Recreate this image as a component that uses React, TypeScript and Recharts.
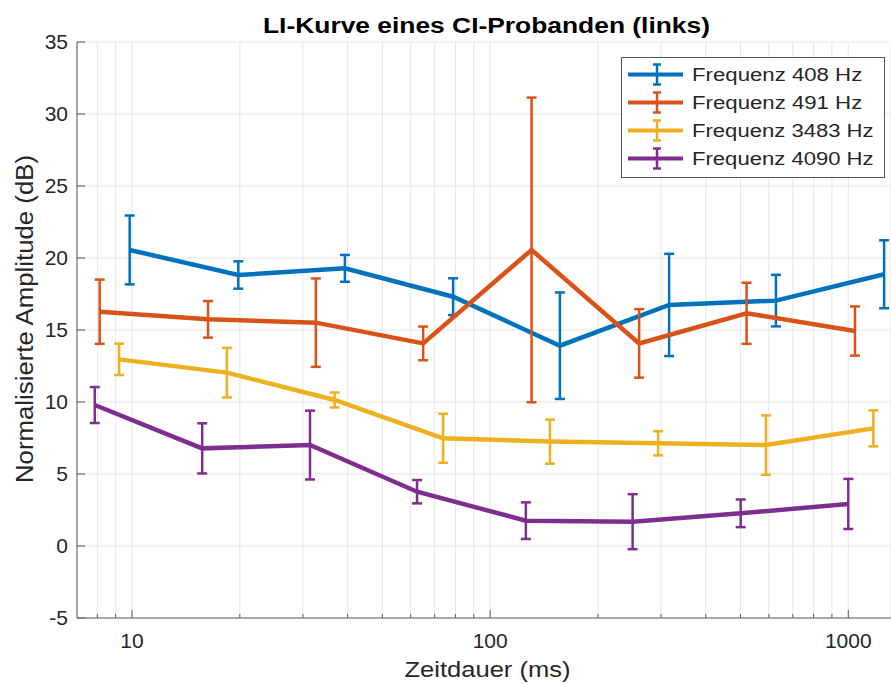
import React from 'react';
import { ComposedChart, Line, XAxis, YAxis, CartesianGrid, ErrorBar, Legend } from 'recharts';

// Durations (ms) per series
const x408 = [9.85, 19.8, 39.3, 78.8, 156.6, 316, 628, 1259];
const y408 = [20.56, 18.82, 19.28, 17.31, 13.91, 16.74, 17.04, 18.87];
const e408 = [2.39, 0.95, 0.93, 1.28, 3.7, 3.55, 1.79, 2.36];

const x491 = [8.12, 16.3, 32.6, 65.0, 130.5, 260.6, 520, 1044];
const y491 = [16.27, 15.74, 15.51, 14.07, 20.56, 14.07, 16.16, 14.93];
const e491 = [2.23, 1.27, 3.07, 1.17, 10.58, 2.38, 2.12, 1.71];

const x3483 = [9.2, 18.4, 36.8, 73.9, 146.9, 294.4, 589, 1175];
const y3483 = [12.96, 12.04, 10.14, 7.48, 7.25, 7.13, 7.01, 8.17];
const e3483 = [1.09, 1.72, 0.52, 1.7, 1.53, 0.84, 2.06, 1.25];

const x4090 = [7.87, 15.7, 31.4, 62.5, 125.8, 249.9, 500.6, 1000];
const y4090 = [9.79, 6.78, 7.01, 3.77, 1.76, 1.69, 2.27, 2.92];
const e4090 = [1.25, 1.74, 2.39, 0.81, 1.27, 1.91, 0.96, 1.74];

const seriesNames = ['Frequenz 408 Hz', 'Frequenz 491 Hz', 'Frequenz 3483 Hz', 'Frequenz 4090 Hz'];
const seriesColors = ['#0072BD', '#D95319', '#EDB120', '#7E2F8E'];

const xMajorTicks = [10, 100, 1000];
const xTicks = [8, 9, 10, 20, 30, 40, 50, 60, 70, 80, 90, 100, 200, 300, 400, 500, 600, 700, 800, 900, 1000];
const yTicks = [-5, 0, 5, 10, 15, 20, 25, 30, 35];

const title = 'LI-Kurve eines CI-Probanden (links)';
const xLabel = 'Zeitdauer (ms)';
const yLabel = 'Normalisierte Amplitude (dB)';

const make = (xs: number[], ys: number[], es: number[]) =>
  xs.map((x, i) => ({ x, y: ys[i], err: es[i] }));

const seriesData = [
  make(x408, y408, e408),
  make(x491, y491, e491),
  make(x3483, y3483, e3483),
  make(x4090, y4090, e4090),
];

const FONT = '"Liberation Sans", Arial, Helvetica, sans-serif';
const AXIS = '#5a5a5a';
const TEXT = '#262626';
const X_MARGIN = 30;
const Y_MARGIN = 9;

const XTick = (props: any) => {
  const { x, y, payload } = props;
  const v = payload.value;
  const major = xMajorTicks.includes(v);
  const axisY = y - X_MARGIN;
  return (
    <g>
      <line x1={x} x2={x} y1={axisY} y2={axisY - (major ? 8 : 4)} stroke={AXIS} strokeWidth={1} />
      {major && (
        <text x={x} y={y} textAnchor="middle" fontSize={21} fill={TEXT} fontFamily={FONT}>
          {v}
        </text>
      )}
    </g>
  );
};

const YTick = (props: any) => {
  const { x, y, payload } = props;
  const axisX = x + Y_MARGIN;
  return (
    <g>
      <line x1={axisX} x2={axisX + 8} y1={y} y2={y} stroke={AXIS} strokeWidth={1} />
      <text x={x} y={y} dy={7} textAnchor="end" fontSize={21} fill={TEXT} fontFamily={FONT}>
        {payload.value}
      </text>
    </g>
  );
};

const renderLegend = () => {
  return (
    <svg width={264} height={121} style={{ display: 'block' }}>
      <rect x={0.5} y={0.5} width={263} height={120} fill="#fff" stroke="#555" strokeWidth={1} />
      {seriesNames.map((label, i) => {
        const cy = 17.5 + i * 28;
        const c = seriesColors[i];
        return (
          <g key={i}>
            <line x1={7} x2={62} y1={cy} y2={cy} stroke={c} strokeWidth={4} />
            <line x1={36} x2={36} y1={cy - 10} y2={cy + 10} stroke={c} strokeWidth={2.5} />
            <line x1={32} x2={40} y1={cy - 10} y2={cy - 10} stroke={c} strokeWidth={2.5} />
            <line x1={32} x2={40} y1={cy + 10} y2={cy + 10} stroke={c} strokeWidth={2.5} />
            <text
              x={71}
              y={cy + 6.5}
              fontSize={18}
              fill={TEXT}
              fontFamily={FONT}
              textLength={label.length * 11.35}
              lengthAdjust="spacingAndGlyphs"
            >
              {label}
            </text>
          </g>
        );
      })}
    </svg>
  );
};

export default function App() {
  return (
    <div style={{ position: 'absolute', left: 0, top: 0, width: 891, height: 684, background: '#fff' }}>
      <ComposedChart
        width={891}
        height={684}
        margin={{ top: 42, right: 0, bottom: 0, left: 0 }}
        style={{ fontFamily: FONT }}
      >
        <CartesianGrid stroke="#e6e6e6" strokeWidth={1} />
        <XAxis
          dataKey="x"
          type="number"
          scale="log"
          domain={[7.02, 1316]}
          allowDataOverflow
          ticks={xTicks}
          interval={0}
          tick={<XTick />}
          tickLine={false}
          tickSize={0}
          tickMargin={X_MARGIN}
          axisLine={{ stroke: AXIS, strokeWidth: 1 }}
          height={66}
        />
        <YAxis
          type="number"
          domain={[-5, 35]}
          ticks={yTicks}
          interval={0}
          allowDataOverflow
          tick={<YTick />}
          tickLine={false}
          tickSize={0}
          tickMargin={Y_MARGIN}
          axisLine={{ stroke: AXIS, strokeWidth: 1 }}
          width={77}
        />
        {seriesData.map((d, i) => (
          <Line
            key={seriesNames[i]}
            data={d}
            dataKey="y"
            name={seriesNames[i]}
            stroke={seriesColors[i]}
            strokeWidth={4.5}
            dot={false}
            activeDot={false}
            type="linear"
            isAnimationActive={false}
          >
            <ErrorBar
              dataKey="err"
              direction="y"
              width={5}
              stroke={seriesColors[i]}
              strokeWidth={2.5}
              isAnimationActive={false}
            />
          </Line>
        ))}
        <Legend
          content={renderLegend}
          layout="vertical"
          align="center"
          verticalAlign="middle"
          wrapperStyle={{ position: 'absolute', left: 621, top: 57, width: 264, height: 121 }}
        />
        <text
          x={486.5}
          y={33}
          textAnchor="middle"
          fontSize={22}
          fontWeight="bold"
          fill="#000"
          fontFamily={FONT}
          textLength={447}
          lengthAdjust="spacingAndGlyphs"
        >
          {title}
        </text>
        <text
          x={487.5}
          y={677}
          textAnchor="middle"
          fontSize={22}
          fill={TEXT}
          fontFamily={FONT}
          textLength={166}
          lengthAdjust="spacingAndGlyphs"
        >
          {xLabel}
        </text>
        <text
          transform="translate(33, 319) rotate(-90)"
          x={0}
          y={0}
          textAnchor="middle"
          fontSize={23}
          fill={TEXT}
          fontFamily={FONT}
          textLength={328}
          lengthAdjust="spacingAndGlyphs"
        >
          {yLabel}
        </text>
      </ComposedChart>
    </div>
  );
}
